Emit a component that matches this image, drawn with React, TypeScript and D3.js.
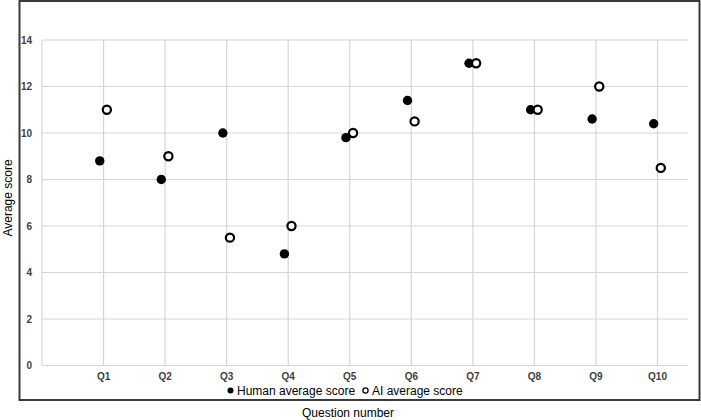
import React from "react";
import * as d3 from "d3";

// values
const questions = ["Q1", "Q2", "Q3", "Q4", "Q5", "Q6", "Q7", "Q8", "Q9", "Q10"];
const humanScores = [8.8, 8, 10, 4.8, 9.8, 11.4, 13, 11, 10.6, 10.4];
const aiScores = [11, 9, 5.5, 6, 10, 10.5, 13, 11, 12, 8.5];
const yTicks = [0, 2, 4, 6, 8, 10, 12, 14];
const seriesNames = ["Human average score", "AI average score"];

const W = 701;
const H = 420;
const font = "'Liberation Sans', Arial, sans-serif";

export default function App() {
  const left = 42;
  const right = 688;
  const top = 40;
  const bottom = 365.5;

  // the first slot is an empty category, the axis sits there
  const x = d3.scalePoint<string>()
    .domain(["", ...questions])
    .range([left, 657.5]);

  const y = d3.scaleLinear().domain([0, 14]).range([bottom, top]);

  // small horizontal shift so the two series don't overlap fully
  const shift = d3.scalePoint<string>().domain(seriesNames).range([-3.8, 3.3]);

  const series = [
    { name: seriesNames[0], values: humanScores, fill: "#000", stroke: "none" },
    { name: seriesNames[1], values: aiScores, fill: "#fff", stroke: "#000" },
  ];

  return (
    <svg width={W} height={H} style={{ position: "fixed", left: 0, top: 0, background: "#fff" }}>
      <rect x={19.5} y={1} width={680} height={399} fill="#fff" stroke="#3a3a3a" strokeWidth={2} />

      {/* horizontal grid */}
      {yTicks.map((t) => (
        <g key={"y" + t}>
          <line x1={left} x2={right} y1={y(t)} y2={y(t)} stroke="#d6d6d6" strokeWidth={1.2} />
          <text x={32} y={y(t) + 3.5} textAnchor="end" fontFamily={font} fontSize={10}
            fontWeight="bold" fill="#404040">{t}</text>
        </g>
      ))}

      {/* vertical grid */}
      {x.domain().map((q) => (
        <g key={"x" + q}>
          <line x1={x(q)} x2={x(q)} y1={top} y2={bottom} stroke="#d6d6d6" strokeWidth={1.2} />
          {q && (
            <text x={x(q)} y={380} textAnchor="middle" fontFamily={font} fontSize={10}
              fontWeight="bold" fill="#404040">{q}</text>
          )}
        </g>
      ))}

      {series.map((s) => (
        <g key={s.name}>
          {s.values.map((v, i) => (
            <circle key={i}
              cx={(x(questions[i]) as number) + (shift(s.name) as number)}
              cy={y(v)}
              r={s.stroke === "none" ? 4.7 : 4.1}
              fill={s.fill}
              stroke={s.stroke}
              strokeWidth={2.2} />
          ))}
        </g>
      ))}

      {/* legend */}
      <g fontFamily={font} fontSize={12} fill="#000">
        <circle cx={230.5} cy={390.5} r={3} fill="#000" />
        <text x={237} y={394.5}>{seriesNames[0]}</text>
        <circle cx={365.5} cy={390.5} r={2.6} fill="#fff" stroke="#000" strokeWidth={1.3} />
        <text x={372} y={394.5}>{seriesNames[1]}</text>
      </g>

      <text x={348} y={417} textAnchor="middle" fontFamily={font} fontSize={12} fill="#000">
        Question number
      </text>
      <text transform={`translate(12,${198}) rotate(-90)`} textAnchor="middle"
        fontFamily={font} fontSize={12} fill="#000">
        Average score
      </text>
    </svg>
  );
}
